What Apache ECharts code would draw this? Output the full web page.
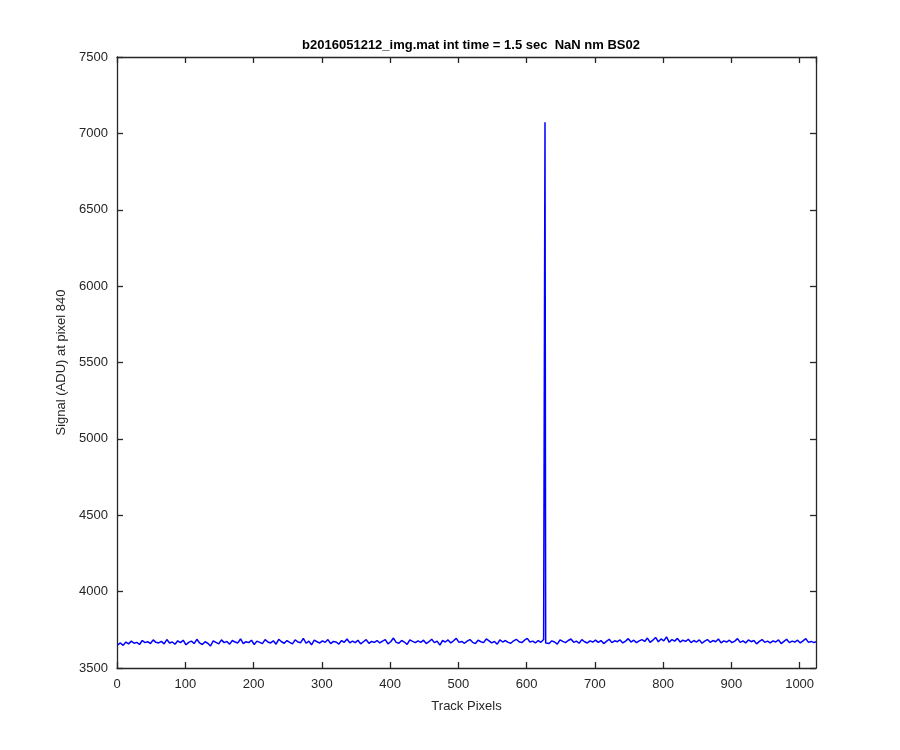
<!DOCTYPE html>
<html>
<head>
<meta charset="utf-8">
<script src="https://cdn.jsdelivr.net/npm/echarts@6/dist/echarts.min.js"></script>
<style>html,body{margin:0;padding:0;background:#fff}#c{width:900px;height:750px}</style>
</head>
<body>
<div id="c"></div>
<script>
var titleText = 'b2016051212_img.mat int time = 1.5 sec  NaN nm BS02';
var xLabel = 'Track Pixels';
var yLabel = 'Signal (ADU) at pixel 840';
var pixelStart = 1;
var pixelStep = 4;
var baseline = [
3652,3664,3648,3670,3658,3676,3662,3668,3654,3680,3666,3672,3660,3684,3668,3664,
3674,3658,3686,3664,3670,3656,3678,3666,3682,3652,3668,3676,3660,3688,3664,3654,
3672,3662,3644,3678,3668,3658,3684,3666,3674,3656,3680,3670,3664,3690,3660,3672,
3666,3682,3654,3676,3668,3660,3686,3670,3664,3678,3656,3688,3672,3662,3680,3668,
3658,3684,3670,3666,3694,3662,3676,3652,3682,3672,3664,3678,3668,3686,3660,3674,
3670,3656,3680,3668,3690,3664,3676,3666,3682,3658,3672,3686,3662,3674,3668,3680,
3664,3676,3686,3658,3672,3696,3668,3662,3680,3670,3654,3684,3674,3666,3678,3668,
3682,3660,3672,3688,3666,3676,3650,3680,3670,3684,3664,3678,3694,3668,3674,3662,
3676,3686,3668,3660,3682,3672,3666,3690,3678,3664,3674,3656,3684,3670,3680,3668,
3662,3678,3688,3672,3666,3682,3694,3670,3676,3664,3680,3668,3686,3674,3660,3678,
3670,3656,3684,3674,3666,3680,3690,3668,3676,3662,3686,3672,3664,3678,3670,3682,
3668,3680,3660,3674,3688,3666,3678,3672,3684,3664,3676,3692,3670,3682,3666,3678,
3686,3674,3696,3668,3682,3700,3672,3690,3678,3704,3668,3686,3676,3694,3670,3682,
3674,3688,3666,3680,3670,3684,3662,3676,3686,3668,3680,3672,3690,3664,3678,3670,
3682,3666,3676,3692,3668,3678,3664,3684,3672,3680,3658,3674,3686,3668,3676,3664,
3678,3670,3684,3660,3674,3688,3666,3676,3670,3682,3664,3678,3692,3668,3674,3666
];
var extraPixels = [626, 627, 628, 1024];
var extraValues = [3690, 7073, 3664, 3672];
var xTicks = {min: 0, max: 1024, interval: 100};
var yTicks = {min: 3500, max: 7500, interval: 500};

var pts = [];
for (var i = 0; i < baseline.length; i++) pts.push([pixelStart + i * pixelStep, baseline[i]]);
for (var j = 0; j < extraPixels.length; j++) pts.push([extraPixels[j], extraValues[j]]);
pts.sort(function (a, b) { return a[0] - b[0]; });

var axisCol = '#262626';
var font = 'Liberation Sans, Arial, Helvetica, sans-serif';
function plain(v) { return String(v); }
function ax(extra) {
  var o = {
    type: 'value',
    axisLine: {show: true, onZero: false, lineStyle: {color: axisCol, width: 1.3}},
    axisTick: {show: true, inside: true, length: 6, lineStyle: {color: axisCol, width: 1.3}},
    splitLine: {show: false}
  };
  for (var k in extra) o[k] = extra[k];
  return o;
}
var chart = echarts.init(document.getElementById('c'), null, {renderer: 'canvas'});
chart.setOption({
  animation: false,
  backgroundColor: '#ffffff',
  title: {
    text: titleText, left: 466, top: 34, textAlign: 'center',
    textStyle: {fontSize: 13, fontWeight: 'bold', color: '#000', fontFamily: font}
  },
  grid: {left: 117, right: 84, top: 57, bottom: 82, containLabel: false},
  xAxis: [
    ax({min: xTicks.min, max: xTicks.max, interval: xTicks.interval, position: 'bottom',
        name: xLabel, nameLocation: 'middle', nameGap: 32,
        nameTextStyle: {color: axisCol, fontSize: 13, fontFamily: font},
        axisLabel: {color: axisCol, fontSize: 13, fontFamily: font, margin: 10, showMaxLabel: false, formatter: plain}}),
    ax({min: xTicks.min, max: xTicks.max, interval: xTicks.interval, position: 'top',
        axisLabel: {show: false}})
  ],
  yAxis: [
    ax({min: yTicks.min, max: yTicks.max, interval: yTicks.interval, position: 'left',
        name: yLabel, nameLocation: 'middle', nameGap: 47,
        nameTextStyle: {color: axisCol, fontSize: 13, fontFamily: font},
        axisLabel: {color: axisCol, fontSize: 13, fontFamily: font, margin: 9, showMaxLabel: true, formatter: plain}}),
    ax({min: yTicks.min, max: yTicks.max, interval: yTicks.interval, position: 'right',
        axisLabel: {show: false}})
  ],
  series: [{
    type: 'line', data: pts, xAxisIndex: 0, yAxisIndex: 0,
    showSymbol: false, symbol: 'none',
    lineStyle: {color: '#0000ff', width: 1.5},
    itemStyle: {color: '#0000ff'}
  }]
});
</script>
</body>
</html>
